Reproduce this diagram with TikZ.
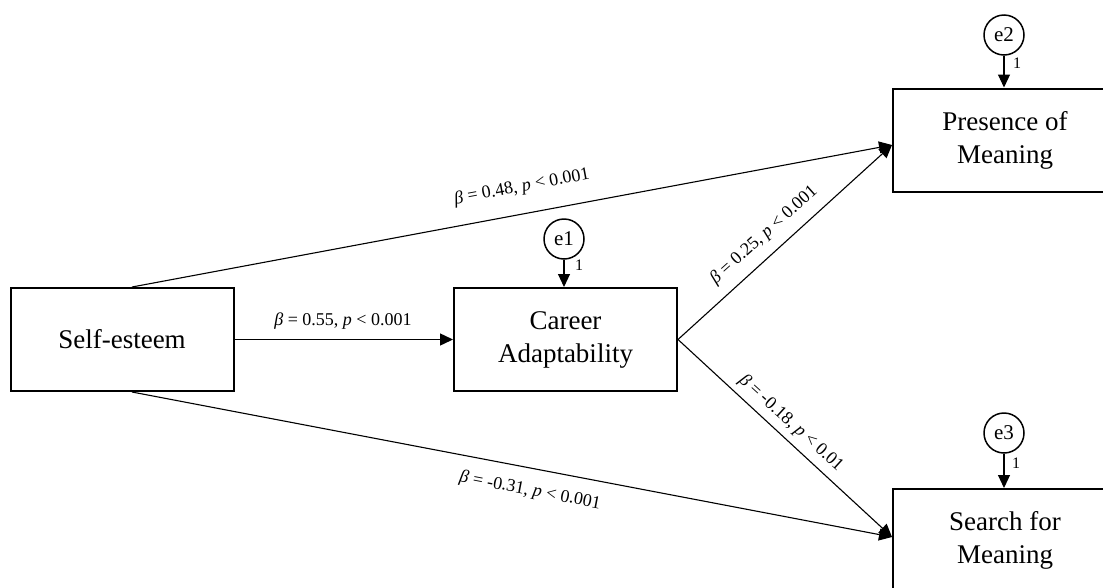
\documentclass[tikz,border=0pt]{standalone}
\usepackage{fontspec}
\setmainfont{Liberation Serif}
\usetikzlibrary{arrows.meta}
\begin{document}
\begin{tikzpicture}[x=1pt,y=-1pt,
  box/.style={draw,line width=2pt,minimum width=223pt,minimum height=103pt,align=center,inner sep=0pt,font=\fontsize{27}{33}\selectfont},
  err/.style={draw,circle,line width=1.5pt,minimum size=40pt,inner sep=0pt,font=\fontsize{21}{24}\selectfont},
  path/.style={line width=1.1pt,-{Triangle[length=13pt,width=12pt]}},
  lab/.style={font=\fontsize{18}{20}\selectfont,inner sep=0pt},
  one/.style={font=\fontsize{16}{18}\selectfont,inner sep=0pt}]
\useasboundingbox (0,0) rectangle (1103,587);
\clip (0,0) rectangle (1103,587);
\node[box] (se) at (122,339.5) {Self-esteem};
\node[box] (ca) at (565.5,339.5) {Career\\Adaptability};
\node[box,minimum width=224pt] (pm) at (1005,140) {Presence of\\Meaning};
\node[box,minimum width=224pt] (sm) at (1005,540.5) {Search for\\Meaning};
\node[err] (e1) at (564,239) {e1};
\node[err] (e2) at (1004,35) {e2};
\node[err] (e3) at (1004,433) {e3};
\draw[path] (e1) -- (ca.north -| e1);
\draw[path] (e2) -- (pm.north -| e2);
\draw[path] (e3) -- (sm.north -| e3);
\node[one] (o1) at (579,265) {1};
\node[one] (o2) at (1017,63) {1};
\node[one] (o3) at (1016,463) {1};
\draw[path,line width=1.4pt] (se.east) -- (ca.west);
\draw[path] ([xshift=10pt]se.north) -- ([yshift=-5pt]pm.west);
\draw[path] (ca.east) -- ([yshift=-5pt]pm.west);
\draw[path] (ca.east) -- ([yshift=3.5pt]sm.west);
\draw[path] ([xshift=10pt]se.south) -- ([yshift=3.5pt]sm.west);
\node[lab] (l1) at (343,321) {\textit{β} = 0.55, \textit{p} < 0.001};
\node[lab,rotate=10.64] (l2) at (522,187) {\textit{β} = 0.48, \textit{p} < 0.001};
\node[lab,rotate=41.78] (l3) at (764,235) {\textit{β} = 0.25, \textit{p} < 0.001};
\node[lab,rotate=-42.36] (l4) at (791,423) {\textit{β} = -0.18, \textit{p} < 0.01};
\node[lab,rotate=-10.86] (l5) at (530,491) {\textit{β} = -0.31, \textit{p} < 0.001};
\end{tikzpicture}
\end{document}
